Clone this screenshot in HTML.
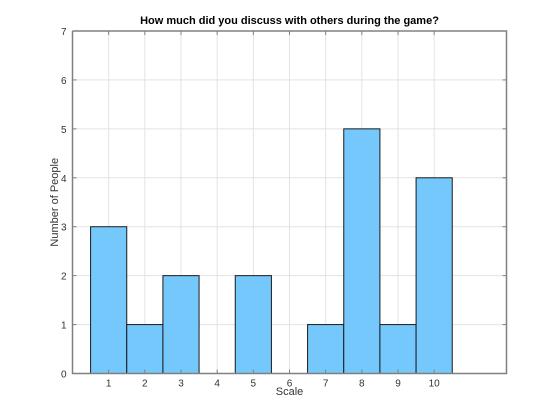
<!DOCTYPE html>
<html><head><meta charset="utf-8"><style>body{margin:0;background:#fff}svg{display:block;font-family:"Liberation Sans",sans-serif}</style></head>
<body>
<svg id="c" width="560" height="420"></svg>
<script>
const categories=[1,2,3,4,5,6,7,8,9,10];
const counts=[3,1,2,0,2,0,1,5,1,4];
const yTicks=[0,1,2,3,4,5,6,7];
const L=72.5,R=506.5,T=31,B=373.5,xmin=0,xmax=12,ymax=7;
const sx=v=>L+(v-xmin)/(xmax-xmin)*(R-L);
const sy=v=>B-v/ymax*(B-T);
const svg=document.getElementById('c');const NS='http://www.w3.org/2000/svg';
function mk(t,a,p){const e=document.createElementNS(NS,t);for(const k in a)e.setAttribute(k,a[k]);(p||svg).appendChild(e);return e;}
let bg=mk('rect',{x:L,y:T,width:R-L,height:B-T,fill:'#fff'});


categories.forEach(c=>{let g=mk('line',{x1:sx(c),x2:sx(c),y1:T,y2:B,stroke:'#e3e3e3','stroke-width':1});

});
yTicks.forEach(v=>{let g=mk('line',{x1:L,x2:R,y1:sy(v),y2:sy(v),stroke:'#e3e3e3','stroke-width':1});

});
categories.forEach((c,i)=>{if(!counts[i])return;const w=sx(1)-sx(0);
let r=mk('rect',{x:sx(c)-w/2,y:sy(counts[i]),width:w,height:B-sy(counts[i]),fill:'#75c8fc',stroke:'#1a1a1a','stroke-width':1});

});
let ax=mk('path',{d:`M${L},${T}V${B}H${R}V${T}H${L}`,fill:'none',stroke:'#808080','stroke-width':1.5});


yTicks.forEach(v=>{mk('line',{x1:L,x2:L+4,y1:sy(v),y2:sy(v),stroke:'#808080'});mk('line',{x1:R,x2:R-4,y1:sy(v),y2:sy(v),stroke:'#808080'});
let t=mk('text',{x:L-6,y:sy(v)+4,'text-anchor':'end','font-size':10,fill:'#333'});t.textContent=v;

});
categories.forEach(c=>{mk('line',{x1:sx(c),x2:sx(c),y1:B,y2:B-4,stroke:'#808080'});mk('line',{x1:sx(c),x2:sx(c),y1:T,y2:T+4,stroke:'#808080'});
let t=mk('text',{x:sx(c),y:B+13,'text-anchor':'middle','font-size':10,fill:'#333'});t.textContent=c;

});
let ti=mk('text',{x:(L+R)/2,y:24,'text-anchor':'middle','font-size':11,'font-weight':'bold',fill:'#000'});ti.textContent='How much did you discuss with others during the game?';


let xl=mk('text',{x:(L+R)/2,y:395,'text-anchor':'middle','font-size':11,fill:'#333'});xl.textContent='Scale';


let yl=mk('text',{x:0,y:0,transform:`translate(58,${(T+B)/2}) rotate(-90)`,'text-anchor':'middle','font-size':11,fill:'#333'});yl.textContent='Number of People';


</script>
</body></html>
